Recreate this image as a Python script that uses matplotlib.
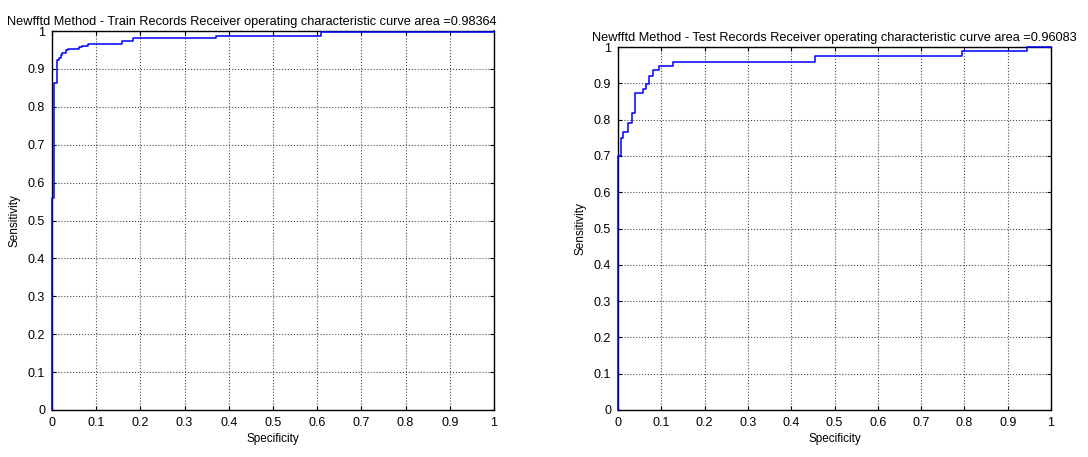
import numpy as np
import matplotlib
matplotlib.use("Agg")
import matplotlib.pyplot as plt
from matplotlib.ticker import FormatStrFormatter

plt.rcParams['font.family'] = ['Liberation Sans', 'DejaVu Sans']

# ROC points (steps-post: at fpr[i] the curve rises to tpr[i])
train_fpr = [0, 0, 0.005, 0.011, 0.012, 0.016, 0.020, 0.023, 0.031, 0.037,
             0.060, 0.069, 0.082, 0.158, 0.183, 0.371, 0.609, 1.0]
train_tpr = [0, 0.56, 0.862, 0.893, 0.923, 0.930, 0.937, 0.941, 0.950, 0.952,
             0.957, 0.961, 0.967, 0.974, 0.981, 0.987, 0.997, 1.0]

test_fpr = [0, 0, 0.006, 0.012, 0.024, 0.032, 0.039, 0.057, 0.064, 0.072,
            0.080, 0.095, 0.128, 0.455, 0.794, 0.944, 1.0]
test_tpr = [0, 0.70, 0.749, 0.765, 0.792, 0.818, 0.872, 0.884, 0.898, 0.920,
            0.936, 0.948, 0.959, 0.974, 0.989, 1.0, 1.0]

titles = ["Newfftd Method - Train Records Receiver operating characteristic curve area =0.98364",
          "Newfftd Method - Test Records Receiver operating characteristic curve area =0.96083"]
ticks = np.round(np.arange(0, 1.01, 0.1), 1)

fig = plt.figure(figsize=(10.88, 4.57), dpi=100)
ax1 = fig.add_axes([52 / 1088, 47 / 457, 442 / 1088, 379 / 457])
ax2 = fig.add_axes([618 / 1088, 47 / 457, 433 / 1088, 363 / 457])

for ax, fpr, tpr, title, tx in [(ax1, train_fpr, train_tpr, titles[0], 0.452),
                                (ax2, test_fpr, test_tpr, titles[1], 0.5)]:
    ax.plot(fpr, tpr, drawstyle='steps-post', color='#0000ff', lw=1.1, clip_on=False, zorder=3)
    ax.set_xlim(0, 1)
    ax.set_ylim(0, 1)
    ax.set_xticks(ticks)
    ax.set_yticks(ticks)
    ax.xaxis.set_major_formatter(FormatStrFormatter('%g'))
    ax.yaxis.set_major_formatter(FormatStrFormatter('%g'))
    ax.tick_params(direction='in', top=True, right=True, length=3, width=0.8,
                   labelsize=9, pad=5)
    ax.grid(True, linestyle=':', color='0.3', linewidth=0.8)
    for s in ax.spines.values():
        s.set_linewidth(1.0)
    ax.set_title(title, fontsize=9.2, pad=4, x=tx)
    ax.set_xlabel("Specificity", fontsize=8.5, labelpad=3)
    ax.set_ylabel("Sensitivity", fontsize=8.5, labelpad=5)

fig.savefig("out.png", dpi=100, facecolor='white')
